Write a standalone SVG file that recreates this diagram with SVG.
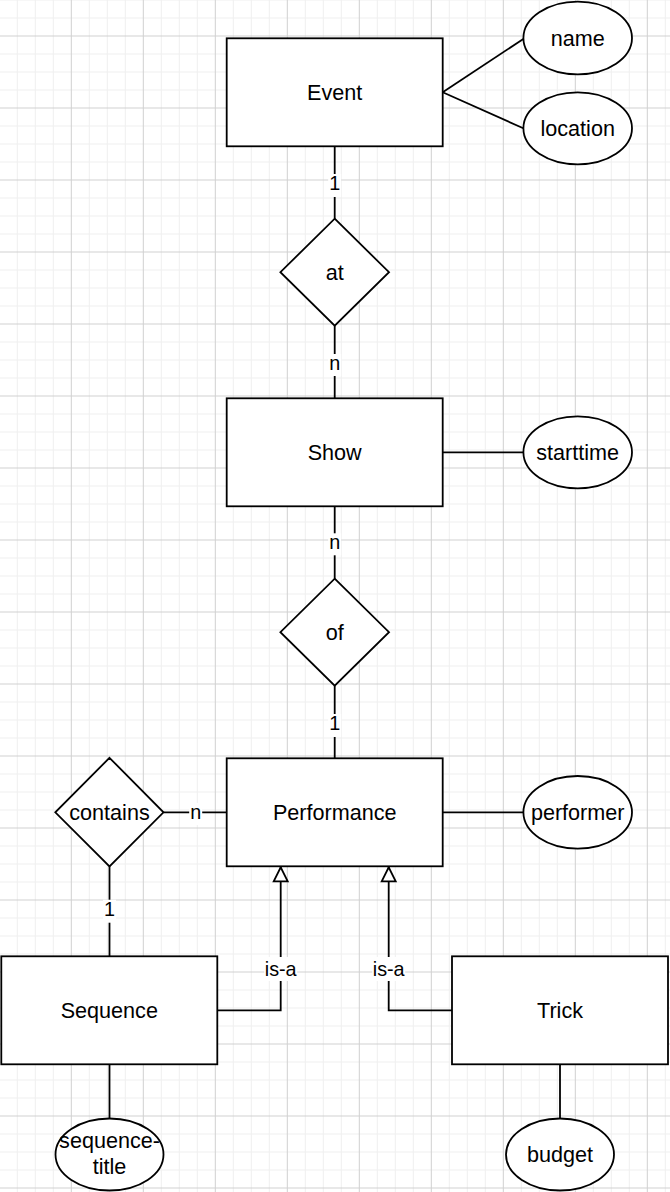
<svg xmlns="http://www.w3.org/2000/svg" width="670" height="1192" viewBox="0 0 670 1192">
<style>
.shape{fill:#ffffff;stroke:#000000;stroke-width:1.8}
.edge{fill:none;stroke:#000000;stroke-width:1.8}
.lbl{font-family:"Liberation Sans",Arial,Helvetica,sans-serif;font-size:21.6px;fill:#000000;text-anchor:middle}
.elbl{font-family:"Liberation Sans",Arial,Helvetica,sans-serif;font-size:19.8px;fill:#000000;text-anchor:middle}
.lblbg{fill:#ffffff;stroke:none}
</style>
<defs>
<pattern id="grid" patternUnits="userSpaceOnUse" x="-1.2" y="35.5" width="72" height="72">
<rect x="18" y="0" width="1" height="72" fill="#efefef"/>
<rect x="36" y="0" width="1" height="72" fill="#efefef"/>
<rect x="54" y="0" width="1" height="72" fill="#efefef"/>
<rect x="0" y="18" width="72" height="1" fill="#efefef"/>
<rect x="0" y="36" width="72" height="1" fill="#efefef"/>
<rect x="0" y="54" width="72" height="1" fill="#efefef"/>
<rect x="0" y="0" width="1" height="72" fill="#d0d0d0"/>
<rect x="0" y="0" width="72" height="1" fill="#d0d0d0"/>
</pattern>
<marker id="isa" markerUnits="userSpaceOnUse" markerWidth="20" markerHeight="20" refX="16" refY="7" orient="auto" overflow="visible">
<path d="M1,0 L15,7 L1,14 Z" fill="#ffffff" stroke="#000000" stroke-width="1.8" stroke-linejoin="miter"/>
</marker>
</defs>
<rect x="0" y="0" width="670" height="1192" fill="#ffffff"/>
<rect x="0" y="0" width="670" height="1192" fill="url(#grid)"/>

<g id="connectors">
<line class="edge" x1="442.7" y1="92.3" x2="523.3" y2="39"/>
<line class="edge" x1="442.7" y1="92.3" x2="523.3" y2="128.3"/>
<line class="edge" x1="334.7" y1="146.3" x2="334.7" y2="218.7"/>
<line class="edge" x1="334.7" y1="325.7" x2="334.7" y2="398.3"/>
<line class="edge" x1="442.7" y1="452.3" x2="523.3" y2="452.3"/>
<line class="edge" x1="334.7" y1="506.3" x2="334.7" y2="578.7"/>
<line class="edge" x1="334.7" y1="685.7" x2="334.7" y2="758.3"/>
<line class="edge" x1="442.7" y1="812.3" x2="523.3" y2="812.3"/>
<line class="edge" x1="163.5" y1="812.3" x2="226.7" y2="812.3"/>
<line class="edge" x1="109.5" y1="866.3" x2="109.5" y2="956.3"/>
<line class="edge" x1="109.5" y1="1064.3" x2="109.5" y2="1118.5"/>
<line class="edge" x1="560" y1="1064.3" x2="560" y2="1118.5"/>
<path class="edge" d="M217.3,1010.3 L280.7,1010.3 L280.7,866.3" marker-end="url(#isa)"/>
<path class="edge" d="M452,1010.3 L388.7,1010.3 L388.7,866.3" marker-end="url(#isa)"/>
<rect class="lblbg" x="328.2" y="174" width="13" height="23"/>
<text class="elbl" x="334.7" y="190">1</text>
<rect class="lblbg" x="328.2" y="354" width="13" height="22"/>
<text class="elbl" x="334.7" y="370">n</text>
<rect class="lblbg" x="328.2" y="533.3" width="13" height="22"/>
<text class="elbl" x="334.7" y="549.3">n</text>
<rect class="lblbg" x="328.2" y="714" width="13" height="23"/>
<text class="elbl" x="334.7" y="730">1</text>
<rect class="lblbg" x="189.2" y="803" width="13" height="22"/>
<text class="elbl" x="195.7" y="819">n</text>
<rect class="lblbg" x="103" y="899.7" width="13" height="23"/>
<text class="elbl" x="109.5" y="915.7">1</text>
<rect class="lblbg" x="264.2" y="957" width="33" height="24"/>
<text class="elbl" x="280.7" y="975.7">is-a</text>
<rect class="lblbg" x="372.2" y="957" width="33" height="24"/>
<text class="elbl" x="388.7" y="975.7">is-a</text>
</g>

<g id="event">
<rect class="shape" x="226.7" y="38.3" width="216" height="108"/>
<text class="lbl" x="334.7" y="100">Event</text>
</g>
<g id="name">
<ellipse class="shape" cx="577.7" cy="38" rx="54.3" ry="36.3"/>
<text class="lbl" x="577.7" y="45.7">name</text>
</g>
<g id="location">
<ellipse class="shape" cx="577.7" cy="128.3" rx="54.3" ry="36"/>
<text class="lbl" x="577.7" y="136">location</text>
</g>
<g id="at">
<polygon class="shape" points="334.7,218.7 389,272.2 334.7,325.7 280.4,272.2"/>
<text class="lbl" x="334.7" y="279.9">at</text>
</g>
<g id="show">
<rect class="shape" x="226.7" y="398.3" width="216" height="108"/>
<text class="lbl" x="334.7" y="460">Show</text>
</g>
<g id="starttime">
<ellipse class="shape" cx="577.7" cy="452.3" rx="54.3" ry="36"/>
<text class="lbl" x="577.7" y="460">starttime</text>
</g>
<g id="of">
<polygon class="shape" points="334.7,578.7 389,632.2 334.7,685.7 280.4,632.2"/>
<text class="lbl" x="334.7" y="639.9">of</text>
</g>
<g id="performance">
<rect class="shape" x="226.7" y="758.3" width="216" height="108"/>
<text class="lbl" x="334.7" y="820">Performance</text>
</g>
<g id="performer">
<ellipse class="shape" cx="577.7" cy="812.3" rx="54.3" ry="36.3"/>
<text class="lbl" x="577.7" y="820">performer</text>
</g>
<g id="contains">
<polygon class="shape" points="109.5,757.8 163.5,812.3 109.5,866.5 55.3,812.3"/>
<text class="lbl" x="109.5" y="820">contains</text>
</g>
<g id="sequence">
<rect class="shape" x="1.3" y="956.3" width="216" height="108"/>
<text class="lbl" x="109.3" y="1018">Sequence</text>
</g>
<g id="trick">
<rect class="shape" x="452" y="956.3" width="216" height="108"/>
<text class="lbl" x="560" y="1018">Trick</text>
</g>
<g id="sequence-title">
<ellipse class="shape" cx="109.5" cy="1154.5" rx="54" ry="36"/>
<text class="lbl" x="109.5" y="1147.5">sequence-</text>
<text class="lbl" x="109.5" y="1173.5">title</text>
</g>
<g id="budget">
<ellipse class="shape" cx="560" cy="1154.5" rx="54" ry="36"/>
<text class="lbl" x="560" y="1162">budget</text>
</g>
</svg>
